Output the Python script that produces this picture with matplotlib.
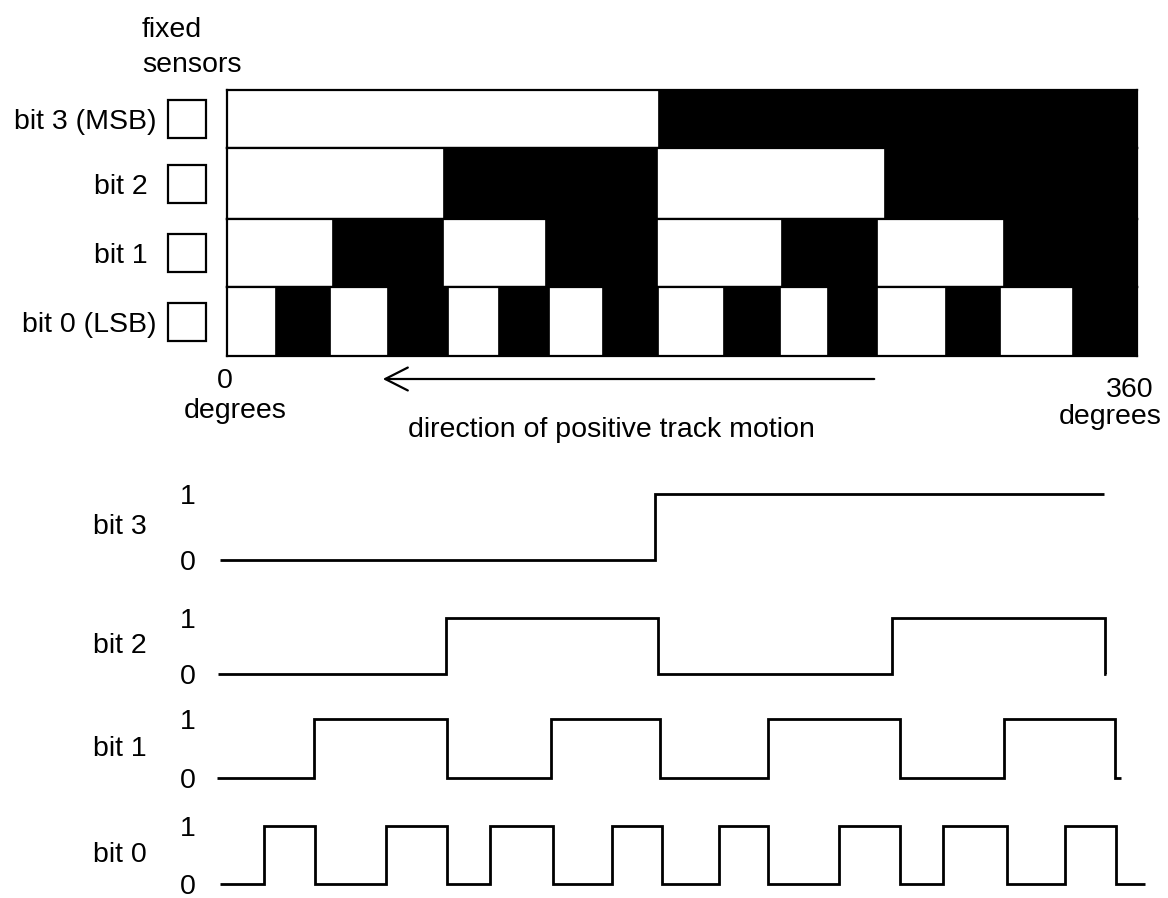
import matplotlib
matplotlib.use('Agg')
import matplotlib.pyplot as plt

plt.rcParams['font.family'] = ['Liberation Sans', 'DejaVu Sans']
plt.rcParams['font.size'] = 20.5

W, H = 1168, 898

# code track: angle (degrees) where each cell starts/ends, one list per sensor row
track3_deg = [0, 170.5, 360]
track2_deg = [0, 85.5, 170.1, 259.9, 360]
track1_deg = [0, 41.5, 85.5, 125.8, 170.1, 219.2, 257.1, 307.0, 360]
track0_deg = [0, 19.0, 40.7, 63.3, 87.4, 107.2, 127.4, 148.4, 170.5,
              196.2, 218.8, 237.4, 257.1, 284.0, 305.8, 334.3, 360]
track_labels = ['bit 3 (MSB)', 'bit 2', 'bit 1', 'bit 0 (LSB)']

# sensor outputs: step edges (degrees) and level of each step
bit3_t = [-2.8, 169.3, 346.9]
bit3_v = [0, 1]
bit2_t = [-3.6, 86.6, 170.5, 263.1, 347.3, 347.7]
bit2_v = [0, 1, 0, 1, 0]
bit1_t = [-4.0, 34.4, 87.0, 128.2, 171.3, 214.0, 266.2, 307.4, 351.3, 353.7]
bit1_v = [0, 1, 0, 1, 0, 1, 0, 1, 0]
bit0_t = [-2.8, 14.6, 34.8, 62.9, 87.0, 104.0, 129.0, 152.3, 172.1,
          194.6, 214.0, 242.1, 266.2, 283.3, 308.6, 331.5, 351.7, 363.2]
bit0_v = [0, 1, 0, 1, 0, 1, 0, 1, 0, 1, 0, 1, 0, 1, 0, 1, 0]
wave_labels = ['bit 3', 'bit 2', 'bit 1', 'bit 0']


def box(l, t, r, b):
    # pixel box (top-left origin) -> figure fraction rect
    return [l / W, 1 - b / H, (r - l) / W, (b - t) / H]


def ftext(x, y, s, **kw):
    fig.text(x / W, 1 - y / H, s, **kw)


fig = plt.figure(figsize=(W / 100, H / 100), dpi=100)

x0_px, x1_px = 227, 1137
px_per_deg = (x1_px - x0_px) / 360.0

# ---- code track, one axes per row
rows_px = [(90, 148), (148, 219), (219, 287), (287, 356)]
label_right = [157, 148, 148, 157]
tracks = [track3_deg, track2_deg, track1_deg, track0_deg]
for i in range(4):
    top, bot = rows_px[i]
    ax = fig.add_axes(box(x0_px, top, x1_px, bot))
    edges = tracks[i]
    for j in range(len(edges) - 1):
        if j % 2 == 1:
            ax.bar(edges[j], 1, width=edges[j + 1] - edges[j], align='edge',
                   color='black', edgecolor='black', linewidth=0.5)
    ax.set_xlim(0, 360)
    ax.set_ylim(0, 1)
    ax.set_xticks([])
    ax.set_yticks([0.5])
    ax.set_yticklabels([track_labels[i]])
    ax.tick_params(axis='y', length=0, pad=(x0_px - label_right[i]) * 0.72)
    for sp in ax.spines.values():
        sp.set_linewidth(1.6)
    # fixed sensor square
    ax.plot([(187 - x0_px) / (x1_px - x0_px)], [0.5], marker='s', markersize=28,
            mfc='white', mec='black', mew=1.6, transform=ax.transAxes, clip_on=False)

ftext(142, 37, 'fixed', ha='left', va='baseline')
ftext(142, 72, 'sensors', ha='left', va='baseline')
ftext(225, 388, '0', ha='center', va='baseline')
ftext(235, 418, 'degrees', ha='center', va='baseline')
ftext(1130, 397, '360', ha='center', va='baseline')
ftext(1110, 424, 'degrees', ha='center', va='baseline')
ftext(408, 437, 'direction of positive track motion', ha='left', va='baseline')

fig.patches.append(matplotlib.patches.FancyArrowPatch(
    (877 / W, 1 - 379 / H), (380 / W, 1 - 379 / H), transform=fig.transFigure,
    arrowstyle='->,head_length=0.65,head_width=0.33', mutation_scale=25,
    color='black', linewidth=1.6))

# ---- sensor output waveforms
wave_t = [bit3_t, bit2_t, bit1_t, bit0_t]
wave_v = [bit3_v, bit2_v, bit1_v, bit0_v]
levels_px = [(560, 494), (674, 618), (778, 719), (884, 826)]
lo_deg, hi_deg = -4.5, 364
wl = x0_px + lo_deg * px_per_deg
wr = x0_px + hi_deg * px_per_deg
for i in range(4):
    y0, y1 = levels_px[i]
    span = y0 - y1
    ax = fig.add_axes(box(wl, y1 - 0.15 * span, wr, y0 + 0.15 * span))
    ax.stairs(wave_v[i], wave_t[i], baseline=None, color='black', linewidth=2.0)
    ax.set_xlim(lo_deg, hi_deg)
    ax.set_ylim(-0.15, 1.15)
    ax.set_xticks([])
    ax.set_yticks([0, 1])
    ax.set_yticklabels(['0', '1'])
    ax.tick_params(axis='y', length=0, pad=(wl - 196) * 0.72)
    for sp in ax.spines.values():
        sp.set_visible(False)
    ax.set_ylabel(wave_labels[i], rotation=0, ha='right', va='center')
    ax.yaxis.set_label_coords((147 - wl) / (wr - wl), 0.5)
    ax.patch.set_alpha(0)

fig.savefig('out.png', dpi=100)
